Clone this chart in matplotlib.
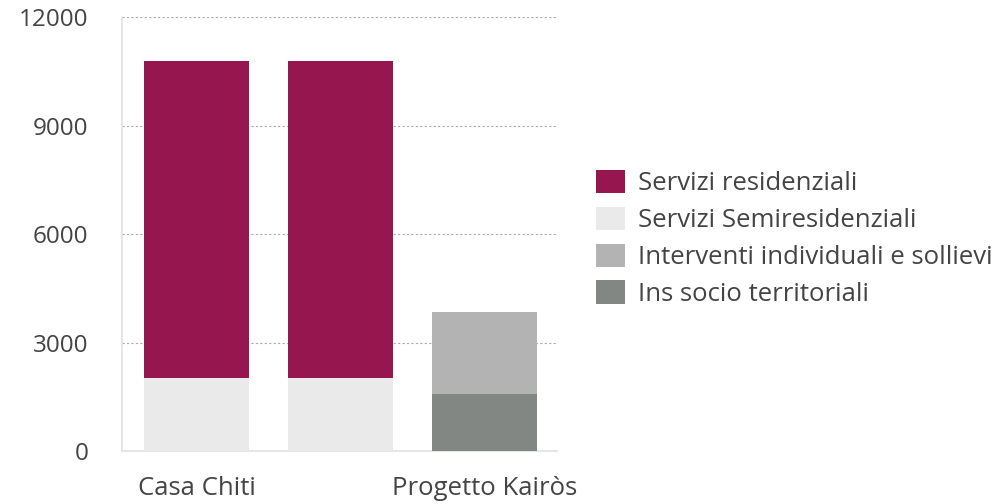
import matplotlib.pyplot as plt
import numpy as np
from matplotlib.patches import Patch

plt.rcParams['font.family'] = ['Open Sans', 'DejaVu Sans']

categories = ['Casa Chiti', '', 'Progetto Kairòs']
series_names = ['Servizi residenziali', 'Servizi Semiresidenziali',
                'Interventi individuali e sollievi', 'Ins socio territoriali']
residenziali = [8760, 8760, 0]
semiresidenziali = [2020, 2020, 0]
interventi = [0, 0, 2260]
ins_socio = [0, 0, 1580]
y_ticks = [0, 3000, 6000, 9000, 12000]

colors = {
    'Servizi residenziali': '#961650',
    'Servizi Semiresidenziali': '#EAEAEA',
    'Interventi individuali e sollievi': '#B3B3B3',
    'Ins socio territoriali': '#828784',
}
text_color = '#444444'

fig = plt.figure(figsize=(9.98, 5.04), dpi=100)
ax = fig.add_axes([0.122, 0.105, 0.436, 0.861])

x = np.arange(len(categories))
width = 0.73

# stack order from the bottom: semiresidenziali / ins socio, then the rest
bottom = np.zeros(len(categories))
for name, vals in [('Servizi Semiresidenziali', semiresidenziali),
                   ('Ins socio territoriali', ins_socio),
                   ('Interventi individuali e sollievi', interventi),
                   ('Servizi residenziali', residenziali)]:
    vals = np.array(vals)
    ax.bar(x, vals, width, bottom=bottom, color=colors[name], zorder=3)
    bottom += vals

ax.set_xlim(-0.52, 2.5)
ax.set_ylim(0, 12000)
ax.set_yticks(y_ticks)
ax.set_yticklabels([str(v) for v in y_ticks])
ax.set_xticks(x)
ax.set_xticklabels(categories)
ax.tick_params(axis='both', length=0, colors=text_color)
ax.tick_params(axis='y', labelsize=17.5, pad=24)
ax.tick_params(axis='x', labelsize=18.5, pad=18)

ax.yaxis.grid(True, linestyle=(0, (2, 2)), color='#AAAAAA', linewidth=0.8, zorder=0)
ax.set_axisbelow(True)
for side in ['top', 'right']:
    ax.spines[side].set_visible(False)
for side in ['left', 'bottom']:
    ax.spines[side].set_color('#E2E2E2')
    ax.spines[side].set_linewidth(1.2)

handles = [Patch(facecolor=colors[n], edgecolor='none') for n in series_names]
fig.legend(handles, series_names, loc='center left', bbox_to_anchor=(0.574, 0.527),
           frameon=False, fontsize=18.5, labelcolor=text_color,
           handlelength=1.12, handleheight=1.05, handletextpad=0.5, labelspacing=0.4)

fig.savefig('out.png', dpi=100)
